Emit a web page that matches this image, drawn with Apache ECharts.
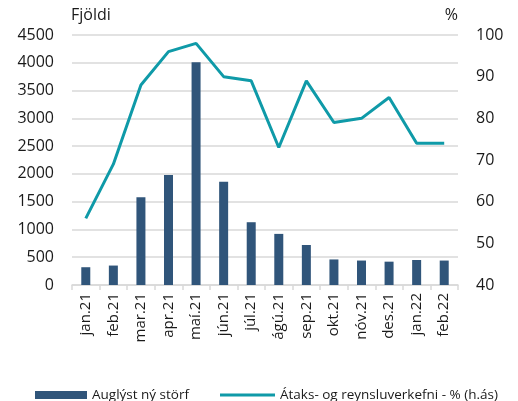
<!DOCTYPE html>
<html>
<head>
<meta charset="utf-8">
<script src="https://cdn.jsdelivr.net/npm/echarts@6/dist/echarts.min.js"></script>
<style>
  html, body { margin: 0; padding: 0; background: #fff; }
  #chart { width: 518px; height: 401px; }
</style>
</head>
<body>
<div id="chart"></div>
<script>
    var months = ['jan.21','feb.21','mar.21','apr.21','maí.21','jún.21','júl.21',
                  'ágú.21','sep.21','okt.21','nóv.21','des.21','jan.22','feb.22'];
    var jobs = [320, 350, 1580, 1980, 4010, 1860, 1130, 920, 720, 460, 440, 420, 450, 440];
    var pct = [56, 69, 88, 96, 98, 90, 89, 73, 89, 79, 80, 85, 74, 74];

    var barName = 'Auglýst ný störf';
    var lineName = 'Átaks- og reynsluverkefni - % (h.ás)';

    var font = 'Open Sans';
    var textCol = '#1a1a1a';

    var chart = echarts.init(document.getElementById('chart'));
    chart.setOption({
        animation: false,
        textStyle: { fontFamily: font, color: textCol },
        grid: { left: 72, right: 60, top: 35, bottom: 116 },
        legend: [
            {
                left: 30, top: 383, itemWidth: 52, itemHeight: 8, itemGap: 6,
                icon: 'rect', data: [barName],
                textStyle: { fontFamily: font, fontSize: 13.5, color: textCol }
            },
            {
                left: 215, top: 383, itemWidth: 55, itemHeight: 3, itemGap: 5,
                icon: 'rect', data: [lineName],
                textStyle: { fontFamily: font, fontSize: 13.5, color: textCol }
            }
        ],
        xAxis: {
            type: 'category',
            data: months,
            axisLine: { lineStyle: { color: '#d9d9d9', width: 1.5 } },
            axisTick: { show: true, length: 5, lineStyle: { color: '#d9d9d9', width: 1.5 } },
            axisLabel: { rotate: 90, fontSize: 15, color: textCol, margin: 8, fontFamily: font }
        },
        yAxis: [
            {
                type: 'value', min: 0, max: 4500, interval: 500,
                name: 'Fjöldi', nameLocation: 'end', nameGap: 12,
                nameTextStyle: { fontSize: 16, color: textCol, align: 'left', padding: [0, 0, 0, -1], fontFamily: font },
                axisLine: { show: false }, axisTick: { show: false },
                axisLabel: { fontSize: 16, color: textCol, margin: 18, fontFamily: font,
                             formatter: function (v) { return String(v); } },
                splitLine: { lineStyle: { color: '#d9d9d9', width: 1.5 } }
            },
            {
                type: 'value', min: 40, max: 100, interval: 10,
                name: '%', nameLocation: 'end', nameGap: 12,
                nameTextStyle: { fontSize: 16, color: textCol, align: 'right', fontFamily: font },
                axisLine: { show: false }, axisTick: { show: false },
                axisLabel: { fontSize: 16, color: textCol, margin: 18, fontFamily: font },
                splitLine: { show: false }
            }
        ],
        series: [
            {
                name: barName, type: 'bar', data: jobs, barWidth: 9,
                itemStyle: { color: '#30557a' }
            },
            {
                name: lineName, type: 'line', yAxisIndex: 1, data: pct,
                showSymbol: false, symbol: 'none',
                lineStyle: { color: '#0f9aa8', width: 3 },
                itemStyle: { color: '#0f9aa8' }
            }
        ]
    });
</script>
</body>
</html>
